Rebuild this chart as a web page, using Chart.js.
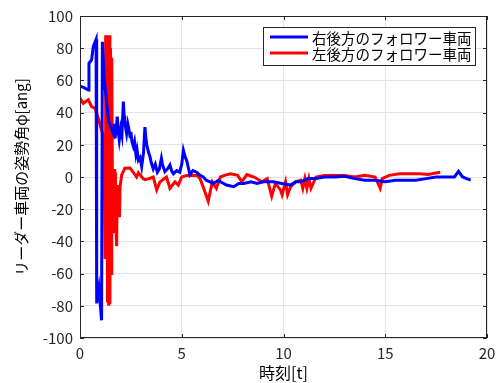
<!DOCTYPE html>
<html>
<head>
<meta charset="utf-8">
<script src="https://cdn.jsdelivr.net/npm/chart.js@4/dist/chart.umd.min.js"></script>
<style>
  html, body { margin: 0; padding: 0; background: #fff; }
  #wrap { width: 503px; height: 383px; }
</style>
</head>
<body>
<div id="wrap"><canvas id="chartPhi"></canvas></div>
<script>
// 右後方のフォロワー車両
const blueT = [0, 0.2, 0.41, 0.44, 0.57, 0.65, 0.79, 0.82, 0.93, 1.06, 1.1, 1.2, 1.4, 1.55, 1.64, 1.68, 1.72, 1.78, 1.83, 1.88, 1.93, 2.0, 2.06, 2.13, 2.17, 2.2, 2.25, 2.29, 2.35, 2.4, 2.46, 2.5, 2.55, 2.62, 2.68, 2.75, 2.8, 2.87, 2.95, 3.03, 3.12, 3.19, 3.24, 3.28, 3.36, 3.44, 3.5, 3.6, 3.7, 3.8, 3.9, 4.0, 4.05, 4.1, 4.17, 4.3, 4.42, 4.5, 4.59, 4.75, 4.9, 5.0, 5.08, 5.18, 5.25, 5.4, 5.55, 5.73, 5.9, 6.06, 6.2, 6.39, 6.55, 6.8, 6.9, 7.2, 7.55, 7.8, 8.05, 8.4, 8.7, 9.0, 9.5, 9.9, 10.35, 10.6, 10.85, 11.2, 11.6, 12.0, 12.5, 13.0, 13.5, 14.0, 14.5, 15.0, 15.5, 16.0, 16.5, 17.0, 17.5, 18.0, 18.4, 18.6, 18.8, 19.0, 19.2];
const blueV = [56.5, 55.5, 54, 70.6, 72.7, 81, 85.5, -78.5, -69, -89, 84, 60, 35, 30, 27, 33, 24, 30, 37.5, 28, 23, 30, 26, 46.8, 38, 35, 30, 27, 33, 30, 25, 28, 22, 19, 22, 14, 17, 10.5, 12, 6.5, 15, 31, 24, 20, 15.7, 12.6, 9, 5, 8, 3, 5, 11.6, 8, 6, 3.3, 5, 7.5, 4, 2, 4, 3, 8, 16.7, 12, 10, 1.4, 4, 3, 1, 0, -2, -3, -4, -2, -3, -5, -6, -4, -4, -3, -4, -3, -3, -4, -5, -3, -3, -1, -1, 0, 0, 0.5, -1, -2, -2, -3, -2, -2, -2, -1, 0, 0, 0, 3.5, 0, -1, -2];

// 左後方のフォロワー車両
const redT = [0, 0.16, 0.41, 0.57, 0.74, 0.9, 1.15, 1.2, 1.23, 1.26, 1.29, 1.32, 1.35, 1.38, 1.41, 1.44, 1.47, 1.5, 1.53, 1.56, 1.6, 1.62, 1.65, 1.68, 1.71, 1.74, 1.77, 1.8, 1.83, 1.87, 1.9, 1.94, 1.97, 2.05, 2.15, 2.2, 2.46, 2.78, 2.87, 3.1, 3.19, 3.4, 3.6, 3.77, 3.93, 4.25, 4.42, 4.67, 4.83, 5.0, 5.25, 5.75, 5.9, 6.05, 6.3, 6.5, 6.7, 6.9, 7.1, 7.4, 7.75, 7.95, 8.2, 8.55, 8.95, 9.2, 9.42, 9.6, 9.85, 9.93, 10.1, 10.2, 10.35, 10.6, 10.85, 10.95, 11.05, 11.15, 11.25, 11.35, 11.6, 12.0, 12.5, 13.0, 13.5, 14.0, 14.5, 14.75, 14.85, 15.2, 15.7, 16.2, 16.7, 17.1, 17.7];
const redV = [49, 45.8, 48, 43.7, 42.6, 36.5, 25, -5, -50, 88, -30, 88, -78, 88, -80, 88, -79, 80, -60, 74, -22, 0, -35, 5, -25, 3, -30, -43, -5, -20, -8, -25, -6, 1.4, 4, 5.5, 5.6, 0, 2.7, -1, -1.7, -1, 0, -8, -3, 0, -7, -3, -5, 0, 1, 1, -1, -6, -15, -3, -7, 0, 1, 2, 1, -3, 1.5, 0, -3, -1, -12, -4, -8, -11, -3, -11, -6, -3, -2, -7, -1, -7, -1, -7, 0, 1, 1, 1, 0, 1, 0, -7, -1, 1, 2, 2, 2, 1.5, 3];

const xTicks = [0, 5, 10, 15, 20];
const yTicks = [-100, -80, -60, -40, -20, 0, 20, 40, 60, 80, 100];

const seriesNames = ['右後方のフォロワー車両', '左後方のフォロワー車両'];
const axisColor = '#262626';
const jpFont = '"Noto Sans CJK JP", "Noto Sans", sans-serif';

function toPoints(ts, vs) {
    let pts = new Array(ts.length);
    for (let i = 0; i < ts.length; i++) {
        pts[i] = { x: ts[i], y: vs[i] };
    }
    return pts;
}

// MATLAB-like frame, inward ticks and legend box
const framePlugin = {
    id: 'frame',
    afterDatasetsDraw(chart) {
        const ctx = chart.ctx;
        const a = chart.chartArea;
        const xs = chart.scales.x, ys = chart.scales.y;
        ctx.save();
        ctx.strokeStyle = axisColor;
        ctx.lineWidth = 1;
        ctx.strokeRect(a.left + 0.5, a.top + 0.5, a.right - a.left - 1, a.bottom - a.top - 1);
        ctx.beginPath();
        xTicks.forEach(t => {
            const px = Math.round(xs.getPixelForValue(t)) + 0.5;
            ctx.moveTo(px, a.bottom); ctx.lineTo(px, a.bottom - 4);
            ctx.moveTo(px, a.top); ctx.lineTo(px, a.top + 4);
        });
        yTicks.forEach(t => {
            const py = Math.round(ys.getPixelForValue(t)) + 0.5;
            ctx.moveTo(a.left, py); ctx.lineTo(a.left + 4, py);
            ctx.moveTo(a.right, py); ctx.lineTo(a.right - 4, py);
        });
        ctx.stroke();

        // legend
        const bx = 263, by = 27, bw = 212, bh = 38;
        ctx.fillStyle = '#fff';
        ctx.fillRect(bx, by, bw, bh);
        ctx.strokeStyle = axisColor;
        ctx.strokeRect(bx + 0.5, by + 0.5, bw, bh);
        ctx.font = '14.5px ' + jpFont;
        ctx.textBaseline = 'middle';
        chart.data.datasets.forEach((ds, i) => {
            const y = by + 10 + i * 16;
            ctx.strokeStyle = ds.borderColor;
            ctx.lineWidth = 3;
            ctx.beginPath();
            ctx.moveTo(bx + 7, y); ctx.lineTo(bx + 45, y);
            ctx.stroke();
            ctx.fillStyle = '#000';
            ctx.fillText(ds.label, bx + 49, y + 1);
        });
        ctx.restore();
    }
};

const config = {
    type: 'line',
    data: {
        datasets: [{
            label: seriesNames[0],
            data: toPoints(blueT, blueV),
            borderColor: '#0000ff',
            borderWidth: 3,
            pointRadius: 0,
            tension: 0
        }, {
            label: seriesNames[1],
            data: toPoints(redT, redV),
            borderColor: '#ff0000',
            borderWidth: 3,
            pointRadius: 0,
            tension: 0
        }]
    },
    options: {
        responsive: true,
        maintainAspectRatio: false,
        animation: false,
        layout: { padding: { top: 16, right: 16, left: 0, bottom: 0 } },
        plugins: {
            legend: { display: false },
            tooltip: { enabled: false }
        },
        scales: {
            x: {
                type: 'linear',
                min: 0, max: 20,
                afterBuildTicks: s => { s.ticks = xTicks.map(v => ({ value: v })); },
                afterFit: s => { s.height = 45; },
                grid: { color: '#e3e3e3', drawTicks: false },
                border: { display: false },
                ticks: { color: axisColor, padding: 6, font: { size: 15, family: jpFont } },
                title: {
                    display: true, text: '時刻[t]', color: '#000',
                    font: { size: 16, family: jpFont }, padding: { top: 0, bottom: 0 }
                }
            },
            y: {
                min: -100, max: 100,
                afterBuildTicks: s => { s.ticks = yTicks.map(v => ({ value: v })); },
                afterFit: s => { s.width = 80; },
                grid: { color: '#e3e3e3', drawTicks: false },
                border: { display: false },
                ticks: { color: axisColor, padding: 7, font: { size: 15, family: jpFont } },
                title: {
                    display: true, text: 'リーダー車両の姿勢角φ[ang]', color: '#000',
                    font: { size: 15, family: jpFont }, padding: { top: 12, bottom: 0 }
                }
            }
        }
    },
    plugins: [framePlugin]
};

new Chart(document.getElementById('chartPhi'), config);
</script>
</body>
</html>
